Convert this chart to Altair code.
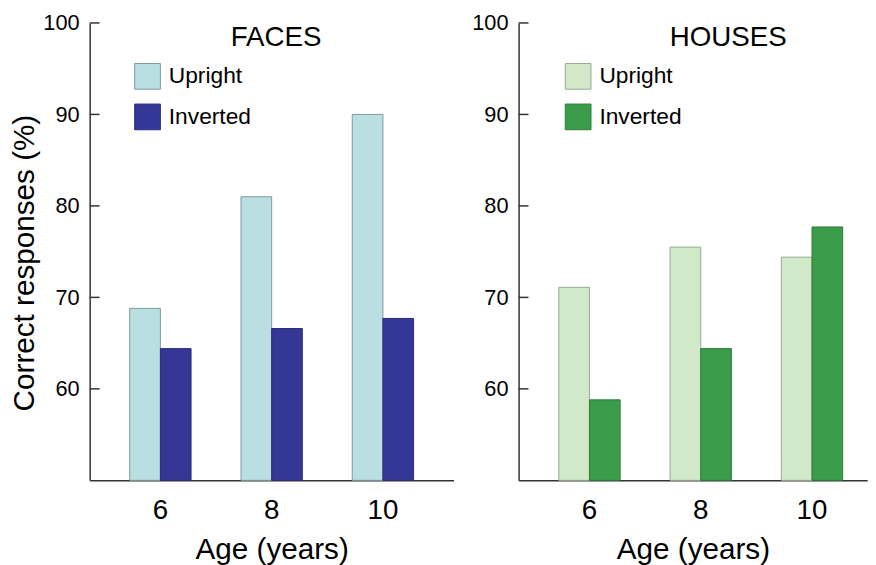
import altair as alt
import pandas as pd

FONT = "Liberation Sans"

ages = [6, 8, 10]
orients = ["Upright", "Inverted"]
faces_upright = [68.8, 81.0, 90.0]
faces_inverted = [64.4, 66.6, 67.7]
houses_upright = [71.1, 75.5, 74.4]
houses_inverted = [58.8, 64.4, 77.7]
tick_values = [60, 70, 80, 90, 100]

faces_fill = ["#b9dfe2", "#343795"]
faces_stroke = ["#7f9a9d", "#2a2c78"]
houses_fill = ["#d1e8c9", "#3b9c4b"]
houses_stroke = ["#98aa94", "#2d7c39"]


def panel(up, inv, fills, strokes, title, title_x, legend_x, width, pad_outer, align, y_title):
    df = pd.DataFrame({
        "age": ages * 2,
        "orient": ["Upright"] * 3 + ["Inverted"] * 3,
        "value": up + inv,
    })
    leg = alt.Legend(
        title=None, orient="none", legendX=legend_x, legendY=40.5,
        symbolType="square", symbolSize=676, symbolStrokeWidth=1,
        labelFontSize=23, labelFont=FONT, labelColor="black",
        labelOffset=8, rowPadding=10, padding=0, symbolOpacity=1,
    )
    yaxis_kw = dict(
        values=tick_values, ticks=False, tickSize=0, labelPadding=10.7,
        labelFontSize=22, labelFont=FONT, labelColor="black",
        domainColor="#333333", domainWidth=1.5, grid=False,
    )
    if y_title:
        yaxis = alt.Axis(
            title=y_title, titleFontSize=30, titleFont=FONT, titleFontWeight="normal",
            titleColor="black", titleAngle=-90, titleX=-56.7, titleY=242.3,
            titleBaseline="alphabetic", titleAlign="center", **yaxis_kw)
    else:
        yaxis = alt.Axis(title=None, **yaxis_kw)
    yscale = alt.Scale(domain=[50, 100], nice=False, zero=False)

    bars = alt.Chart(df).mark_bar(strokeWidth=1).encode(
        x=alt.X("age:O", sort=ages,
                scale=alt.Scale(paddingInner=0.4489, paddingOuter=pad_outer, align=align),
                axis=alt.Axis(
                    title="Age (years)", labelAngle=0, ticks=False, tickSize=0,
                    labelPadding=17, labelFontSize=28, labelFont=FONT, labelColor="black",
                    titleFontSize=30, titleFont=FONT, titleFontWeight="normal", titleColor="black",
                    titleY=79, titleBaseline="alphabetic",
                    domainColor="#333333", domainWidth=1.5, grid=False)),
        xOffset=alt.XOffset("orient:N", sort=orients,
                            scale=alt.Scale(paddingInner=0, paddingOuter=0)),
        y=alt.Y("value:Q", scale=yscale, axis=yaxis),
        y2=alt.datum(50),
        fill=alt.Fill("orient:N", sort=orients, scale=alt.Scale(domain=orients, range=fills), legend=leg),
        stroke=alt.Stroke("orient:N", sort=orients, scale=alt.Scale(domain=orients, range=strokes), legend=leg),
    )
    ticks = alt.Chart(pd.DataFrame({"value": tick_values})).mark_rule(
        color="#333333", strokeWidth=1.5
    ).encode(y=alt.Y("value:Q", scale=yscale, axis=yaxis), x=alt.value(0), x2=alt.value(10))
    ttl = alt.Chart(pd.DataFrame({"t": [title]})).mark_text(
        font=FONT, fontSize=28, align="center", baseline="alphabetic", color="black"
    ).encode(text="t:N", x=alt.value(title_x), y=alt.value(23.0))
    return alt.layer(bars, ticks, ttl).properties(width=width, height=462.5)


left = panel(faces_upright, faces_inverted, faces_fill, faces_stroke, "FACES",
             188.5, 45, 368, 0.36, 0.5, "Correct responses (%)")
right = panel(houses_upright, houses_inverted, houses_fill, houses_stroke, "HOUSES",
              212, 46.7, 352.5, 0.2911, 0.621, None)

chart = alt.hconcat(left, right, spacing=17.7).properties(
    padding={"left": 1.6, "top": 1.0, "right": 0, "bottom": 0}
).configure_view(stroke=None).resolve_scale(fill="independent", stroke="independent")

chart.save("out.html", embed_options={"renderer": "svg", "actions": False})
